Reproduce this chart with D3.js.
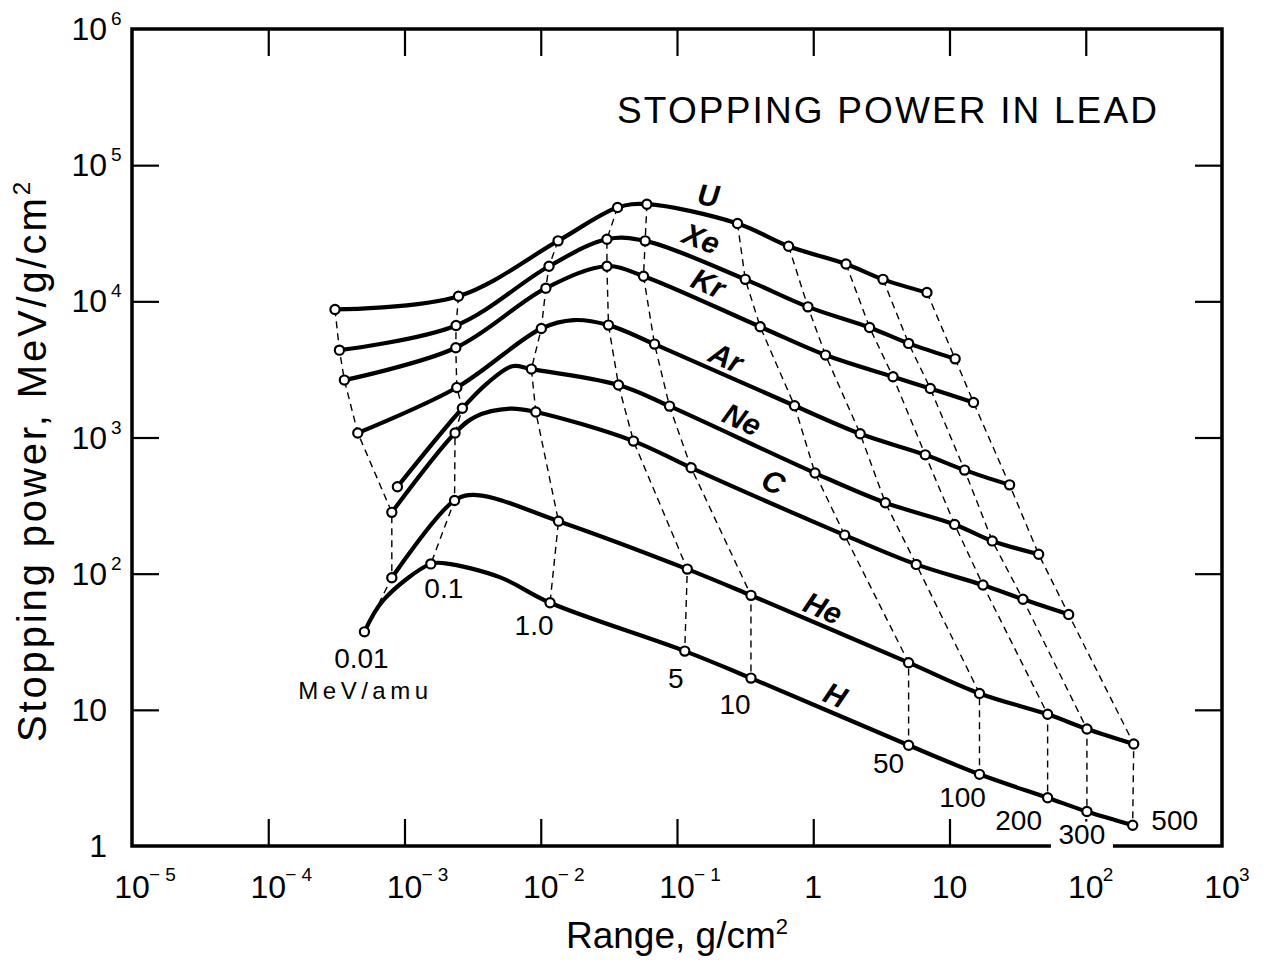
<!DOCTYPE html>
<html>
<head>
<meta charset="utf-8">
<script src="https://cdn.jsdelivr.net/npm/d3@7"></script>
<style>
  body { margin:0; background:#fff; }
  svg { display:block; font-family:"Liberation Sans", Arial, sans-serif; }
</style>
</head>
<body>
<div class="chart"></div>
<script>
// each point: [range g/cm2, stopping power MeV/g/cm2, energy MeV/amu] (null = curve shape only)
const U  = [[3.09e-4,8720,0.01],[2.49e-3,10900,0.1],[1.34e-2,27800,1],[3.66e-2,48900,5],[6.01e-2,51700,10],
            [0.278,37300,50],[0.659,25400,100],[1.74,18800,200],[3.25,14500,300],[6.83,11600,500]];
const Xe = [[3.33e-4,4380,0.01],[2.39e-3,6650,0.1],[1.15e-2,18100,1],[3.06e-2,28600,5],[5.84e-2,27800,10],
            [0.317,14500,50],[0.914,9110,100],[2.59,6430,200],[5.01,4910,300],[11.0,3780,500]];
const Kr = [[3.62e-4,2640,0.01],[2.38e-3,4560,0.1],[1.09e-2,12500,1],[3.06e-2,18100,5],[5.68e-2,15300,10],
            [0.408,6500,50],[1.23,4030,100],[3.85,2790,200],[7.23,2290,300],[15.0,1810,500]];
const Ar = [[4.54e-4,1080,0.01],[2.42e-3,2330,0.1],[1.01e-2,6320,1],[1.74e-2,7280,null],[3.14e-2,6690,5],
            [6.84e-2,4850,10],[0.729,1710,50],[2.21,1065,100],[6.64,746,200],[12.9,576,300],[27.6,449,500]];
const Ne = [[8.87e-4,435,0.02],[2.66e-3,1640,0.1],[4.04e-3,2500,null],[6.17e-3,3340,null],[8.54e-3,3180,1],
            [3.72e-2,2430,5],[8.81e-2,1700,10],[1.03,548,50],[3.38,332,100],[10.9,230,200],[20.6,174,300],
            [45.1,139,500]];
const C  = [[8.07e-4,282,0.01],[2.35e-3,1080,0.1],[3.30e-3,1420,null],[5.96e-3,1630,null],[9.2e-3,1540,1],
            [4.79e-2,941,5],[0.127,599,10],[1.70,192,50],[5.70,117,100],[17.6,82.5,200],[34.6,64.8,300],
            [74.9,50.2,500]];
const He = [[8.07e-4,93.3,0.01],[2.33e-3,345,0.1],[3.40e-3,378,null],[1.35e-2,243,1],[0.119,108,5],
            [0.349,69.3,10],[5.01,22.2,50],[16.6,13.2,100],[52.5,9.27,200],[102,7.23,300],[225,5.61,500]];
const Hy = [[5.08e-4,37.4,0.01],[7.0e-4,64.0,null],[1.56e-3,118,0.1],[1.99e-3,119,null],[5.04e-3,93.9,null],
            [1.17e-2,61.1,1],[0.114,27.0,5],[0.349,17.1,10],[5.01,5.49,50],[16.6,3.36,100],[52.5,2.26,200],
            [102,1.79,300],[221,1.42,500]];

const ions = [
  {name:'U',  pts:U,  labelAt:0.17,  lift:22, tilt:6},
  {name:'Xe', pts:Xe, labelAt:0.151, lift:24},
  {name:'Kr', pts:Kr, labelAt:0.17,  lift:21},
  {name:'Ar', pts:Ar, labelAt:0.23,  lift:18},
  {name:'Ne', pts:Ne, labelAt:0.30,  lift:20},
  {name:'C',  pts:C,  labelAt:0.51,  lift:22},
  {name:'He', pts:He, labelAt:1.18,  lift:18},
  {name:'H',  pts:Hy, labelAt:1.45,  lift:19}
];

const energies   = [0.01, 0.1, 1, 5, 10, 50, 100, 200, 300, 500];
const energyText = ['0.01','0.1','1.0','5','10','50','100','200','300','500'];
// label offset in px from the H marker of that energy
const energyOffset = [[-3,26],[13,24],[-16,22],[-9,27],[-16,26],[-20,18],[-17,23],[-29,22],[-5,23],[42,-5]];

const xTicks = [1e-5,1e-4,1e-3,1e-2,1e-1,1,10,100,1000];
const xTickLabels = [['10','\u2212 5'],['10','\u2212 4'],['10','\u2212 3'],['10','\u2212 2'],['10','\u2212 1'],
                     ['1',''],['10',''],['10','2'],['10','3']];
const yTicks = [1,10,100,1e3,1e4,1e5,1e6];
const yTickLabels = [['1',''],['10',''],['10','2'],['10','3'],['10','4'],['10','5'],['10','6']];

const W = 1264, H = 964;
const margin = {top:29, left:132, right:42, bottom:118};
const iW = W - margin.left - margin.right;
const iH = H - margin.top - margin.bottom;

const x = d3.scaleLog().domain([1e-5,1e3]).range([0,iW]);
const y = d3.scaleLog().domain([1,1e6]).range([iH,0]);

const svg = d3.select('.chart').append('svg').attr('width',W).attr('height',H);
const g = svg.append('g').attr('transform',`translate(${margin.left},${margin.top})`);

// ticks, all pointing inward
const tk = 27;
const inner = xTicks.slice(1,-1), innerY = yTicks.slice(1,-1);
g.append('g').attr('transform',`translate(0,${iH})`)
  .call(d3.axisBottom(x).tickValues(inner).tickSizeInner(-tk).tickSizeOuter(0).tickFormat(''));
g.append('g')
  .call(d3.axisTop(x).tickValues(inner).tickSizeInner(-tk).tickSizeOuter(0).tickFormat(''));
g.append('g')
  .call(d3.axisLeft(y).tickValues(innerY).tickSizeInner(-tk).tickSizeOuter(0).tickFormat(''));
g.append('g').attr('transform',`translate(${iW},0)`)
  .call(d3.axisRight(y).tickValues(innerY).tickSizeInner(-tk).tickSizeOuter(0).tickFormat(''));
g.selectAll('.domain').remove();
g.selectAll('.tick line').attr('stroke','#000').attr('stroke-width',2.2);

// tick labels with superscripts
xTicks.forEach((v,i) => {
  const [b,e] = xTickLabels[i];
  g.append('text').attr('x',x(v)).attr('y',iH+52).attr('text-anchor','middle')
    .attr('font-size',32).text(b);
  if (e) g.append('text').attr('x',x(v)+17).attr('y',iH+35).attr('font-size',19).text(e);
});
yTicks.forEach((v,i) => {
  const [b,e] = yTickLabels[i];
  g.append('text').attr('x',-25).attr('y',y(v)+11).attr('text-anchor','end')
    .attr('font-size',32).text(b);
  if (e) g.append('text').attr('x',-21).attr('y',y(v)-4).attr('font-size',19).text(e);
});

// iso-energy dashed lines
const straight = d3.line().x(d => x(d[0])).y(d => y(d[1]));
energies.forEach(en => {
  const pts = ions.map(s => s.pts.find(p => p[2] === en)).filter(Boolean);
  g.append('path').attr('d',straight(pts)).attr('fill','none')
    .attr('stroke','#000').attr('stroke-width',1.4).attr('stroke-dasharray','7 5');
});

// ion curves
const smooth = d3.line().x(d => x(d[0])).y(d => y(d[1])).curve(d3.curveCatmullRom.alpha(0.5));
g.selectAll('.ion').data(ions).enter().append('path')
  .attr('class','ion').attr('d',d => smooth(d.pts)).attr('fill','none')
  .attr('stroke','#000').attr('stroke-width',4.2).attr('stroke-linejoin','round');

// markers
const marks = ions.flatMap(s => s.pts.filter(p => p[2] !== null));
g.selectAll('circle').data(marks).enter().append('circle')
  .attr('cx',d => x(d[0])).attr('cy',d => y(d[1])).attr('r',4.6)
  .attr('fill','#fff').attr('stroke','#000').attr('stroke-width',2.2);

// ion names along the curves
ions.forEach(s => {
  const sx = x(s.labelAt);
  const sp = s.pts.map(p => [x(p[0]), y(p[1])]);
  const k = sp.findIndex(p => p[0] > sx);
  const a = sp[k-1], b = sp[k];
  const sy = a[1] + (b[1]-a[1]) * (sx-a[0]) / (b[0]-a[0]);
  const ang = s.tilt != null ? s.tilt : Math.atan2(b[1]-a[1], b[0]-a[0]) * 180 / Math.PI;
  g.append('text').attr('transform',`translate(${sx},${sy - s.lift}) rotate(${ang})`)
    .attr('text-anchor','middle').attr('dy','0.35em')
    .attr('font-size',30).attr('font-weight','bold').attr('font-style','italic').text(s.name);
});

// frame
g.append('rect').attr('width',iW).attr('height',iH).attr('fill','none')
  .attr('stroke','#000').attr('stroke-width',3.5);

// energy labels near the H curve
energies.forEach((en,i) => {
  const p = Hy.find(q => q[2] === en);
  const lx = x(p[0]) + energyOffset[i][0], ly = y(p[1]) + energyOffset[i][1];
  if (energyText[i] === '300') {
    g.append('rect').attr('x',lx-31).attr('y',ly-13).attr('width',62).attr('height',28).attr('fill','#fff');
  }
  g.append('text').attr('x',lx).attr('y',ly).attr('dy','0.35em').attr('text-anchor','middle')
    .attr('font-size',28).text(energyText[i]);
  if (en === 0.01) {
    g.append('text').attr('x',lx+4).attr('y',ly+33).attr('dy','0.35em').attr('text-anchor','middle')
      .attr('font-size',24).attr('letter-spacing',4.5).text('MeV/amu');
  }
});

// titles
svg.append('text').attr('x',617).attr('y',123).attr('font-size',37)
  .attr('textLength',540).attr('lengthAdjust','spacing').text('STOPPING POWER IN LEAD');

svg.append('text').attr('x',margin.left + iW/2).attr('y',948).attr('text-anchor','middle')
  .attr('font-size',37)
  .call(t => { t.append('tspan').text('Range, g/cm');
               t.append('tspan').attr('dy',-14).attr('font-size',22).text('2'); });

svg.append('text').attr('transform','translate(46,462) rotate(-90)').attr('text-anchor','middle')
  .attr('font-size',40).attr('textLength',560).attr('lengthAdjust','spacing')
  .call(t => { t.append('tspan').text('Stopping power, MeV/g/cm');
               t.append('tspan').attr('dy',-16).attr('font-size',24).text('2'); });
</script>
</body>
</html>
